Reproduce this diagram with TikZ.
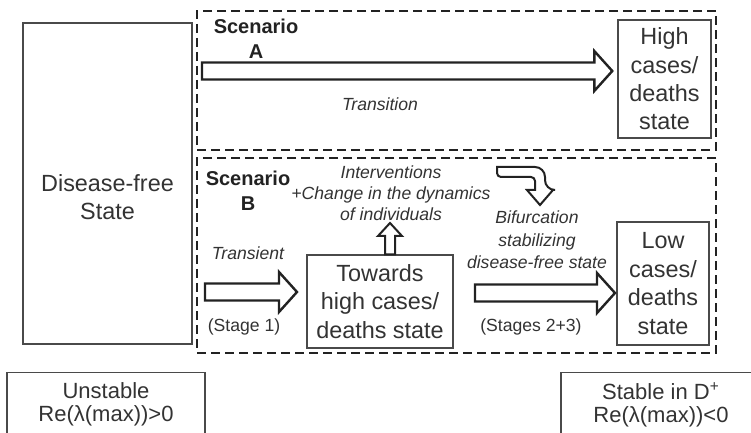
\documentclass[tikz,border=0pt]{standalone}
\usepackage{fontspec}
\setmainfont{Liberation Sans}
\usepackage{tikz}
\usetikzlibrary{calc}
\usepackage{xcolor}
\definecolor{inkgray}{HTML}{333333}
\definecolor{linegray}{HTML}{4A4A4A}
\definecolor{arrowblack}{HTML}{222222}
% hollow block arrow, left to right: #1 tail, #2 tip
\newcommand{\fatarrow}[2]{%
  \draw[fatarr] ($(#1)+(0,-8.5)$) -- ($(#2)+(-18,-8.5)$) -- ($(#2)+(-18,-20)$)
    -- (#2) -- ($(#2)+(-18,20)$) -- ($(#2)+(-18,8.5)$) -- ($(#1)+(0,8.5)$) -- cycle;}

\begin{document}
\begin{tikzpicture}[x=0.5pt, y=-0.5pt,
  state/.style={draw=linegray, line width=0.7pt, align=center, text=inkgray,
                font=\fontsize{11.7}{14.2}\selectfont, inner sep=0pt},
  scen/.style={draw=arrowblack, line width=0.8pt, dash pattern=on 4.5pt off 2.5pt,
               inner sep=0pt},
  scenlabel/.style={align=center, text=arrowblack,
                    font=\fontsize{10}{12.5}\selectfont\bfseries},
  note/.style={align=center, text=inkgray, font=\fontsize{8.8}{10.5}\selectfont\itshape},
  stage/.style={text=inkgray, font=\fontsize{8.8}{10.5}\selectfont},
  stab/.style={draw=linegray, line width=0.7pt, align=center, text=inkgray,
               font=\fontsize{11}{11.5}\selectfont, anchor=north, inner xsep=0pt,
               inner ysep=5pt, text depth=14pt},
  fatarr/.style={draw=arrowblack, line width=1.2pt, fill=white, line join=miter},
]
  \fill[white] (0,0) rectangle (751,433);
  \clip (0,0) rectangle (751,433);
  % Scenario frames
  \node[scen, minimum width=259.5pt, minimum height=69.5pt] (scenA) at (456.5,80.5) {};
  \node[scen, minimum width=259.5pt, minimum height=97.5pt] (scenB) at (456.5,255.5) {};
  \node[scenlabel] (scenAlbl) at (256,39) {Scenario\\A};
  \node[scenlabel] (scenBlbl) at (248,190.5) {Scenario\\B};
  % States
  \node[state, minimum width=84.5pt, minimum height=160.5pt] (dfree) at (107.5,183.5) {};
  \node[state, draw=none] (dfreelbl) at (107.5,197) {Disease-free\\State};
  \node[state, minimum width=46.5pt, minimum height=59pt] (high) at (664.5,79)
    {High\\cases/\\deaths\\state};
  \node[state, minimum width=73pt, minimum height=46.5pt] (towards) at (380,301.5)
    {Towards\\high cases/\\deaths state};
  \node[state, minimum width=46pt, minimum height=61.5pt] (low) at (663,283.5)
    {Low\\cases/\\deaths\\state};
  % Stability boxes
  \node[stab, minimum width=99pt] (unstable) at (106,372)
    {Unstable\\Re(λ(max))>0};
  \node[stab, minimum width=100pt] (stable) at (661,372)
    {Stable in D\textsuperscript{+}\\Re(λ(max))<0};
  % Block arrows
  \coordinate (aTail) at (202,71);
  \coordinate (aTip) at ($(high.west)+(-5,-8)$);
  \fatarrow{aTail}{aTip}
  \coordinate (s1Tail) at (205,292);
  \coordinate (s1Tip) at (297,292);
  \fatarrow{s1Tail}{s1Tip}
  \coordinate (s23Tail) at (475,293);
  \coordinate (s23Tip) at (615,293);
  \fatarrow{s23Tail}{s23Tip}
  % Up arrow out of the towards box
  \coordinate (upTail) at ($(towards.north)+(10,0)$);
  \coordinate (upTip) at (390,223);
  \draw[fatarr, line width=1pt] ($(upTail)+(-5,0)$) -- ($(upTip)+(-5,13)$)
    -- ($(upTip)+(-12,13)$) -- (upTip) -- ($(upTip)+(12,13)$) -- ($(upTip)+(5,13)$)
    -- ($(upTail)+(5,0)$) -- cycle;
  % Bent arrow
  \coordinate (bendTip) at (540,205);
  \draw[fatarr, line width=1pt] (497,167) [rounded corners=5pt] -- (545,167) -- (545,190)
    [sharp corners] -- (553,190) -- (bendTip) -- (527,190) -- (535,190)
    [rounded corners=2pt] -- (535,177) -- (497,177) [sharp corners] -- cycle;
  % Labels
  \node[note] (transition) at (380,104) {Transition};
  \node[note] (interv) at (391,193) {Interventions\\+Change in the dynamics\\of individuals};
  \node[note, font=\fontsize{8.8}{11.2}\selectfont\itshape] (bifur) at (537,240)
    {Bifurcation\\stabilizing\\disease-free state};
  \node[note] (transient) at (248,253) {Transient};
  \node[stage] (st1) at (244,327) {(Stage 1)};
  \node[stage] (st23) at (531,327) {(Stages 2+3)};
\end{tikzpicture}
\end{document}
